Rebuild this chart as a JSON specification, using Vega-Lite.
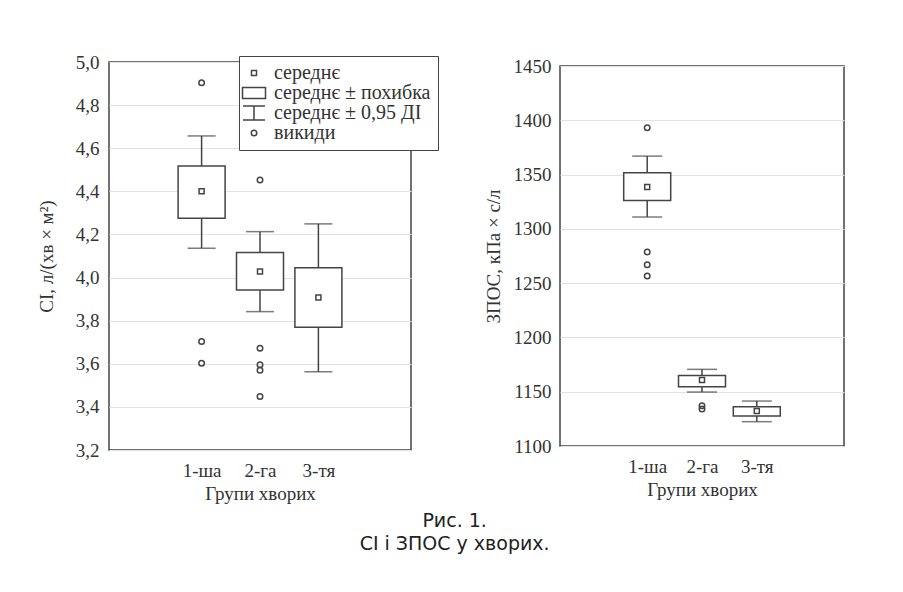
{
  "$schema": "https://vega.github.io/schema/vega-lite/v6.json",
  "background": "white",
  "padding": {"left": 36, "top": 52, "right": 5, "bottom": 5},
  "datasets": {
    "ci_stats": [
      {"grp": 2, "kind": "середнє", "mean": 4.40, "lo": 4.275, "hi": 4.518, "ci_lo": 4.136, "ci_hi": 4.657},
      {"grp": 3, "kind": "середнє", "mean": 4.028, "lo": 3.942, "hi": 4.116, "ci_lo": 3.842, "ci_hi": 4.213},
      {"grp": 4, "kind": "середнє", "mean": 3.907, "lo": 3.769, "hi": 4.046, "ci_lo": 3.563, "ci_hi": 4.249}
    ],
    "ci_out": [
      {"grp": 2, "kind": "викиди", "value": 4.904},
      {"grp": 2, "kind": "викиди", "value": 3.703},
      {"grp": 2, "kind": "викиди", "value": 3.602},
      {"grp": 3, "kind": "викиди", "value": 4.453},
      {"grp": 3, "kind": "викиди", "value": 3.672},
      {"grp": 3, "kind": "викиди", "value": 3.595},
      {"grp": 3, "kind": "викиди", "value": 3.570},
      {"grp": 3, "kind": "викиди", "value": 3.448}
    ],
    "zpos_stats": [
      {"grp": 2, "kind": "середнє", "mean": 1338.5, "lo": 1326.2, "hi": 1351.7, "ci_lo": 1310.9, "ci_hi": 1367.0},
      {"grp": 3, "kind": "середнє", "mean": 1160.8, "lo": 1154.6, "hi": 1165.0, "ci_lo": 1149.7, "ci_hi": 1170.6},
      {"grp": 4, "kind": "середнє", "mean": 1132.2, "lo": 1127.6, "hi": 1136.2, "ci_lo": 1122.4, "ci_hi": 1141.4}
    ],
    "zpos_out": [
      {"grp": 2, "kind": "викиди", "value": 1393.2},
      {"grp": 2, "kind": "викиди", "value": 1278.7},
      {"grp": 2, "kind": "викиди", "value": 1267.0},
      {"grp": 2, "kind": "викиди", "value": 1256.6},
      {"grp": 3, "kind": "викиди", "value": 1137.0},
      {"grp": 3, "kind": "викиди", "value": 1134.0}
    ]
  },
  "title": {
    "text": "Рис. 1.",
    "subtitle": "CI і ЗПОС у хворих.",
    "orient": "bottom",
    "anchor": "middle",
    "dx": 14,
    "font": "DejaVu Sans",
    "fontSize": 19,
    "fontWeight": "normal",
    "color": "#222",
    "subtitleFont": "DejaVu Sans",
    "subtitleFontSize": 19,
    "subtitleColor": "#222",
    "subtitlePadding": 4,
    "offset": 8
  },
  "spacing": 149,
  "bounds": "flush",
  "center": true,
  "hconcat": [
    {
      "width": 302,
      "height": 388,
      "layer": [
        {
          "data": {"name": "ci_stats"},
          "mark": {"type": "rule", "color": "#444", "strokeWidth": 1.5},
          "encoding": {
            "x": {"field": "grp", "type": "quantitative", "scale": {"domain": [0.5, 5.5], "nice": false, "zero": false},
              "axis": {"title": "Групи хворих", "values": [2, 3, 4], "labelExpr": "datum.value == 2 ? '1-ша' : datum.value == 3 ? '2-га' : '3-тя'", "grid": false, "labelPadding": 11, "titlePadding": 4}},
            "y": {"field": "ci_lo", "type": "quantitative", "scale": {"domain": [3.2, 5.0], "nice": false, "zero": false},
              "axis": {"title": "CI, л/(хв × м²)", "values": [3.2, 3.4, 3.6, 3.8, 4.0, 4.2, 4.4, 4.6, 4.8, 5.0], "labelExpr": "replace(format(datum.value, '.1f'), '.', ',')", "labelPadding": 10, "titlePadding": 19}},
            "y2": {"field": "ci_hi"}
          }
        },
        {
          "data": {"name": "ci_stats"},
          "mark": {"type": "tick", "orient": "horizontal", "size": 28, "thickness": 1.5, "color": "#444"},
          "encoding": {
            "x": {"field": "grp", "type": "quantitative"},
            "y": {"field": "ci_lo", "type": "quantitative"}
          }
        },
        {
          "data": {"name": "ci_stats"},
          "mark": {"type": "tick", "orient": "horizontal", "size": 28, "thickness": 1.5, "color": "#444"},
          "encoding": {
            "x": {"field": "grp", "type": "quantitative"},
            "y": {"field": "ci_hi", "type": "quantitative"}
          }
        },
        {
          "data": {"name": "ci_stats"},
          "mark": {"type": "bar", "width": 47, "fill": "white", "stroke": "#444", "strokeWidth": 1.5},
          "encoding": {
            "x": {"field": "grp", "type": "quantitative"},
            "y": {"field": "lo", "type": "quantitative"},
            "y2": {"field": "hi"}
          }
        },
        {
          "data": {"name": "ci_stats"},
          "mark": {"type": "point", "filled": false, "size": 100, "strokeWidth": 1.5, "color": "#444", "opacity": 1},
          "encoding": {
            "x": {"field": "grp", "type": "quantitative"},
            "y": {"field": "mean", "type": "quantitative"},
            "shape": {
              "field": "kind", "type": "nominal",
              "scale": {
                "domain": ["середнє", "середнє ± похибка", "середнє ± 0,95 ДІ", "викиди"],
                "range": ["M-0.5,-0.5H0.5V0.5H-0.5Z", "M-2.3,-1.1H2.3V1.1H-2.3Z", "M-2.2,-1.4H2.2M0,-1.4V1.4M-2.2,1.4H2.2", "M-0.55,0A0.55,0.55,0,1,0,0.55,0A0.55,0.55,0,1,0,-0.55,0Z"]
              },
              "legend": {"title": null, "orient": "none", "legendX": 130, "legendY": -6, "strokeColor": "#444", "fillColor": "white", "padding": 7, "rowPadding": -20, "labelFontSize": 20, "labelFont": "Liberation Serif", "labelColor": "#333", "symbolSize": 100, "symbolStrokeColor": "#444", "symbolStrokeWidth": 1.5, "symbolFillColor": "transparent", "symbolOffset": -2, "labelOffset": 10}
            }
          }
        },
        {
          "data": {"name": "ci_out"},
          "mark": {"type": "point", "filled": false, "size": 100, "strokeWidth": 1.5, "color": "#444", "opacity": 1},
          "encoding": {
            "x": {"field": "grp", "type": "quantitative"},
            "y": {"field": "value", "type": "quantitative"},
            "shape": {"field": "kind", "type": "nominal"}
          }
        }
      ]
    },
    {
      "width": 284,
      "height": 380,
      "layer": [
        {
          "data": {"name": "zpos_stats"},
          "mark": {"type": "rule", "color": "#444", "strokeWidth": 1.5},
          "encoding": {
            "x": {"field": "grp", "type": "quantitative", "scale": {"domain": [0.5, 5.5], "nice": false, "zero": false},
              "axis": {"title": "Групи хворих", "values": [2, 3, 4], "labelExpr": "datum.value == 2 ? '1-ша' : datum.value == 3 ? '2-га' : '3-тя'", "grid": false, "labelPadding": 11, "titlePadding": 4}},
            "y": {"field": "ci_lo", "type": "quantitative", "scale": {"domain": [1100, 1450], "nice": false, "zero": false},
              "axis": {"title": "ЗПОС, кПа × с/л", "values": [1100, 1150, 1200, 1250, 1300, 1350, 1400, 1450], "format": "d", "labelPadding": 9, "titlePadding": 10}},
            "y2": {"field": "ci_hi"}
          }
        },
        {
          "data": {"name": "zpos_stats"},
          "mark": {"type": "tick", "orient": "horizontal", "size": 30, "thickness": 1.5, "color": "#444"},
          "encoding": {
            "x": {"field": "grp", "type": "quantitative"},
            "y": {"field": "ci_lo", "type": "quantitative"}
          }
        },
        {
          "data": {"name": "zpos_stats"},
          "mark": {"type": "tick", "orient": "horizontal", "size": 30, "thickness": 1.5, "color": "#444"},
          "encoding": {
            "x": {"field": "grp", "type": "quantitative"},
            "y": {"field": "ci_hi", "type": "quantitative"}
          }
        },
        {
          "data": {"name": "zpos_stats"},
          "mark": {"type": "bar", "width": 47, "fill": "white", "stroke": "#444", "strokeWidth": 1.5},
          "encoding": {
            "x": {"field": "grp", "type": "quantitative"},
            "y": {"field": "lo", "type": "quantitative"},
            "y2": {"field": "hi"}
          }
        },
        {
          "data": {"name": "zpos_stats"},
          "mark": {"type": "point", "filled": false, "size": 100, "strokeWidth": 1.5, "color": "#444", "opacity": 1},
          "encoding": {
            "x": {"field": "grp", "type": "quantitative"},
            "y": {"field": "mean", "type": "quantitative"},
            "shape": {
              "field": "kind", "type": "nominal",
              "scale": {
                "domain": ["середнє", "середнє ± похибка", "середнє ± 0,95 ДІ", "викиди"],
                "range": ["M-0.5,-0.5H0.5V0.5H-0.5Z", "M-2.3,-1.1H2.3V1.1H-2.3Z", "M-2.2,-1.4H2.2M0,-1.4V1.4M-2.2,1.4H2.2", "M-0.55,0A0.55,0.55,0,1,0,0.55,0A0.55,0.55,0,1,0,-0.55,0Z"]
              },
              "legend": {"title": null, "orient": "none", "legendX": 114, "legendY": -12, "strokeColor": "#444", "fillColor": "white", "padding": 7, "rowPadding": -20, "labelFontSize": 20, "labelFont": "Liberation Serif", "labelColor": "#333", "symbolSize": 100, "symbolStrokeColor": "#444", "symbolStrokeWidth": 1.5, "symbolFillColor": "transparent", "symbolOffset": -2, "labelOffset": 10}
            }
          }
        },
        {
          "data": {"name": "zpos_out"},
          "mark": {"type": "point", "filled": false, "size": 100, "strokeWidth": 1.5, "color": "#444", "opacity": 1},
          "encoding": {
            "x": {"field": "grp", "type": "quantitative"},
            "y": {"field": "value", "type": "quantitative"},
            "shape": {"field": "kind", "type": "nominal"}
          }
        }
      ]
    }
  ],
  "config": {
    "font": "Liberation Serif",
    "view": {"stroke": "#444", "strokeWidth": 1.5},
    "axis": {
      "labelFont": "Liberation Serif",
      "titleFont": "Liberation Serif",
      "labelFontSize": 19,
      "titleFontSize": 19,
      "titleFontWeight": "normal",
      "labelColor": "#333",
      "titleColor": "#333",
      "domain": false,
      "ticks": false,
      "gridColor": "#e2e2e2",
      "gridWidth": 1
    },
    "legend": {"labelFont": "Liberation Serif"}
  }
}
